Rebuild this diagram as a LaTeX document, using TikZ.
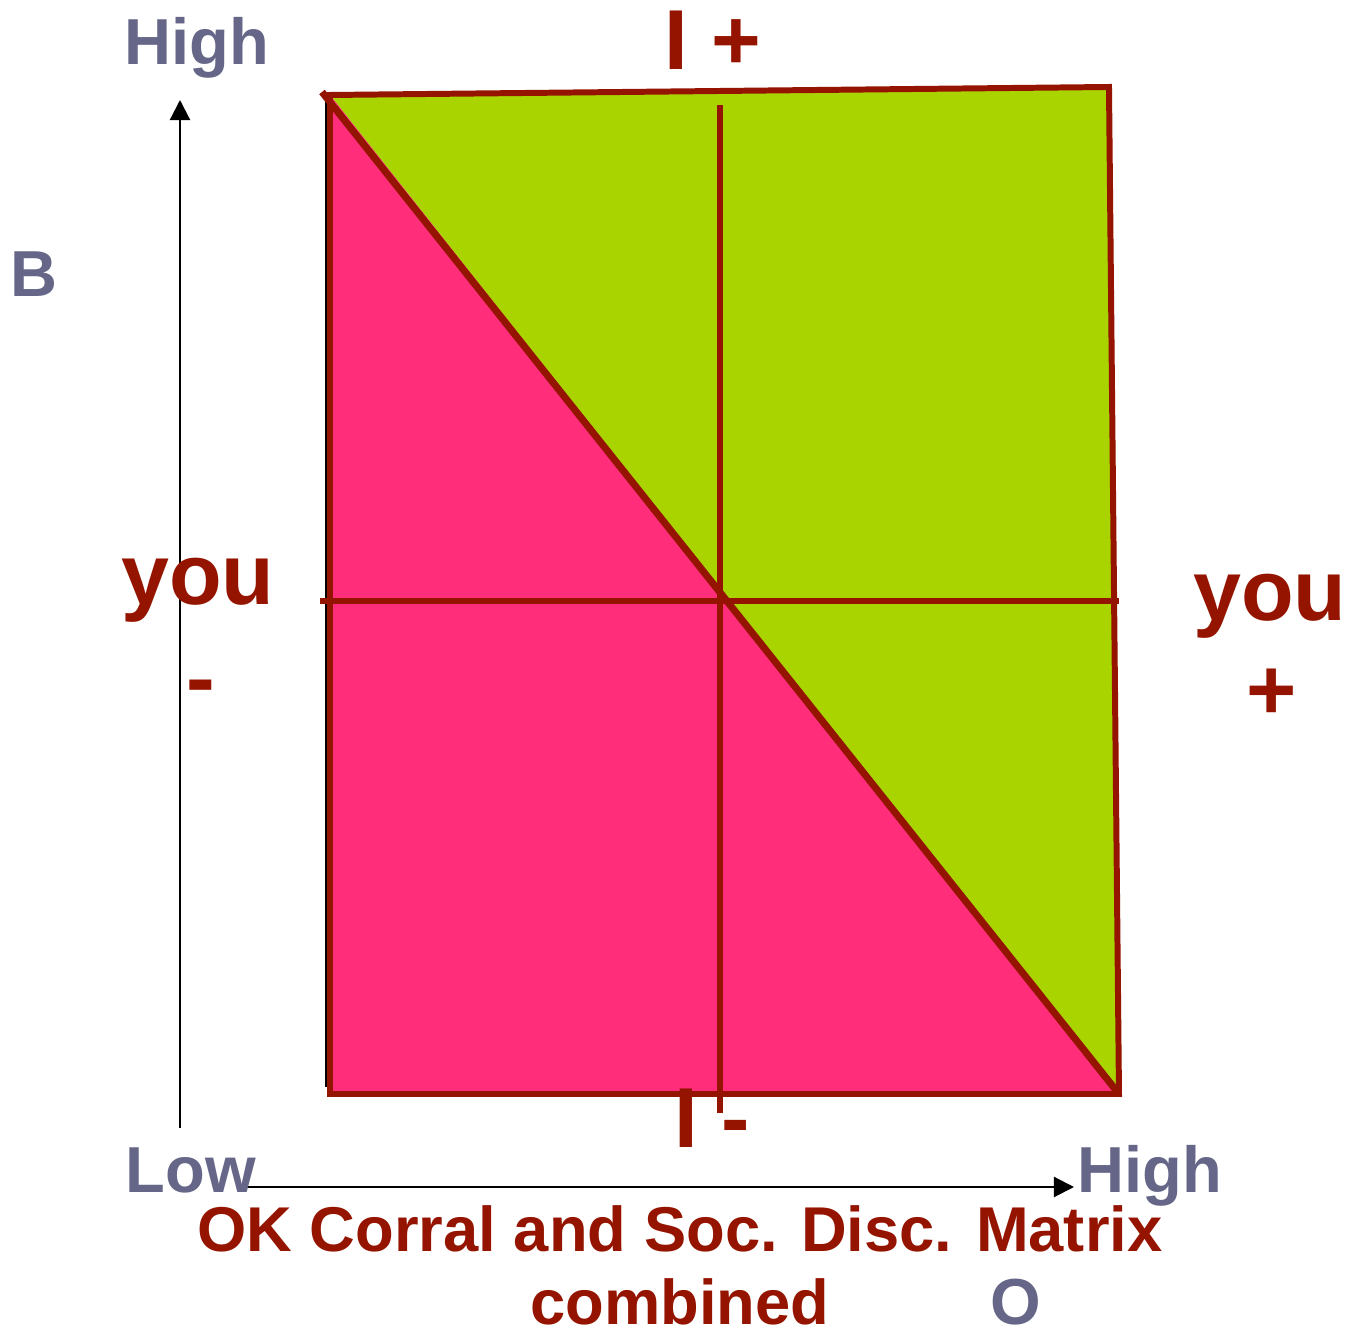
\documentclass[tikz,border=0pt]{standalone}
\usepackage{fontspec}
\setmainfont{Liberation Sans}
\usetikzlibrary{arrows.meta,positioning}

\definecolor{dred}{RGB}{148,20,0}
\definecolor{axgray}{RGB}{102,102,136}
\definecolor{pinkf}{RGB}{255,45,122}
\definecolor{greenf}{RGB}{170,212,0}

\begin{document}
\begin{tikzpicture}[x=0.01cm, y=-0.01cm,
    every node/.style={inner sep=0pt},
    ax/.style={font=\bfseries\fontsize{18.5}{22}\selectfont, text=axgray, anchor=base},
    ii/.style={font=\bfseries\fontsize{24.2}{29}\selectfont, text=dred, anchor=base west},
    yy/.style={font=\bfseries\fontsize{24.5}{29}\selectfont, text=dred},
    ttl/.style={font=\bfseries\fontsize{18}{22}\selectfont, text=dred, anchor=base},
    edge/.style={draw=dred, line width=1.7pt, line join=miter},
    cross/.style={draw=dred, line width=1.45pt},
    e/.style={black, line width=0.6pt, -{Triangle[length=5.7pt, width=5.7pt]}},
  ]
  \useasboundingbox (0,0) rectangle (1350,1334);
  \coordinate (tl) at (330,95);
  \coordinate (tr) at (1109,87);
  \coordinate (br) at (1119,1094);
  \coordinate (bl) at (330,1094);
  \coordinate (dtop) at (322,92);
  \coordinate (vtop) at (720,105);
  \coordinate (vbot) at (720,1113);
  \coordinate (hl) at (320,601);
  \coordinate (hr) at (1119,601);
  \coordinate (ybot) at (180,1128);
  \coordinate (ytop) at (180,100);
  \coordinate (xl) at (243,1187);
  \coordinate (xr) at (1074,1187);

  \fill[greenf] (tl) -- (tr) -- (br) -- cycle;
  \fill[pinkf] (tl) -- (br) -- (bl) -- cycle;
  \draw[black, line width=0.6pt] (326,97) -- (326,1087);
  \draw[edge] (tl) -- (tr) -- (br) -- (bl) -- cycle;
  \draw[edge, line width=2pt] (dtop) -- (br);
  \draw[cross] (vtop) -- (vbot);
  \draw[cross] (hl) -- (hr);
  \draw[e] (ybot) -- (ytop);
  \draw[e] (xl) -- (xr);

  \node[ax] (yhigh) at (197,65) {High};
  \node[ax] (blbl) at (33.5,297) {B};
  \node[ax] (xlow) at (191,1193) {Low};
  \node[ax] (xhigh) at (1150,1193) {High};
  \node[ax] (olbl) at (1016,1325) {O};
  \node[ii] (iplus) at (664,70) {I +};
  \node[ii] (iminus) at (674,1148) {I -};
  \node[yy, anchor=base] (youl) at (198,605) {you};
  \node[yy] (minusl) at (201,694) {-};
  \node[yy, anchor=base] (your) at (1270,621) {you};
  \node[yy] (plusr) at (1272,694) {+};
  \node[ttl] (title) at (680,1252) {OK Corral and Soc. Disc. Matrix};
  \node[ttl] (title2) at (680,1325) {combined};
\end{tikzpicture}
\end{document}
